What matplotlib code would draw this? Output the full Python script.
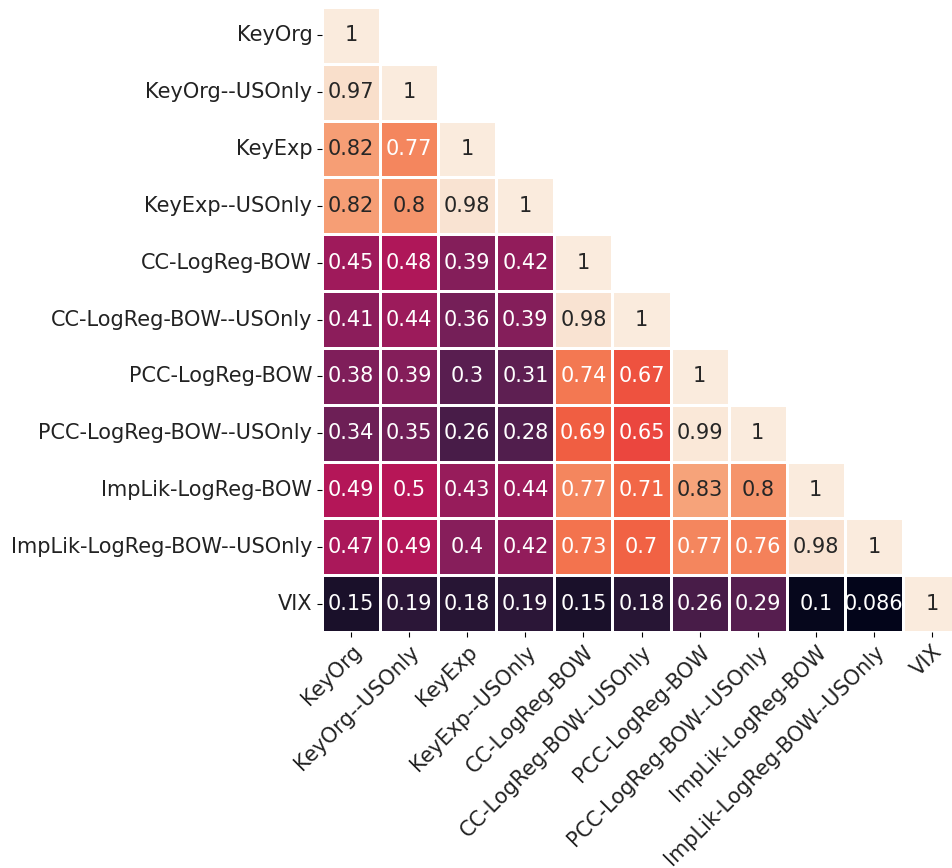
import numpy as np
import matplotlib
matplotlib.use("Agg")
import matplotlib.pyplot as plt
import seaborn as sns

# Measures compared in the correlation matrix
labels = ["KeyOrg", "KeyOrg--USOnly", "KeyExp", "KeyExp--USOnly",
          "CC-LogReg-BOW", "CC-LogReg-BOW--USOnly",
          "PCC-LogReg-BOW", "PCC-LogReg-BOW--USOnly",
          "ImpLik-LogReg-BOW", "ImpLik-LogReg-BOW--USOnly", "VIX"]

# Lower triangle of the correlation matrix, row by row
lower_rows = [
    [1],
    [0.97, 1],
    [0.82, 0.77, 1],
    [0.82, 0.8, 0.98, 1],
    [0.45, 0.48, 0.39, 0.42, 1],
    [0.41, 0.44, 0.36, 0.39, 0.98, 1],
    [0.38, 0.39, 0.3, 0.31, 0.74, 0.67, 1],
    [0.34, 0.35, 0.26, 0.28, 0.69, 0.65, 0.99, 1],
    [0.49, 0.5, 0.43, 0.44, 0.77, 0.71, 0.83, 0.8, 1],
    [0.47, 0.49, 0.4, 0.42, 0.73, 0.7, 0.77, 0.76, 0.98, 1],
    [0.15, 0.19, 0.18, 0.19, 0.15, 0.18, 0.26, 0.29, 0.1, 0.086, 1],
]

# Build the full symmetric matrix
n = len(labels)
corr = np.zeros((n, n))
for i, row in enumerate(lower_rows):
    for j, v in enumerate(row):
        corr[i, j] = v
        corr[j, i] = v

# Hide the upper triangle (keep the diagonal)
mask = np.triu(np.ones_like(corr, dtype=bool), k=1)

fig = plt.figure(figsize=(9.52, 8.68), dpi=100)
ax = fig.add_axes([322 / 952, 1 - 632 / 868, 639 / 952, 625 / 868])

sns.heatmap(corr, mask=mask, cmap="rocket", annot=True, fmt=".2g",
            annot_kws={"fontsize": 15}, linewidths=1, linecolor="white",
            cbar=False, xticklabels=labels, yticklabels=labels, ax=ax)

ax.tick_params(axis="both", labelsize=15, labelcolor="#222222")
plt.setp(ax.get_xticklabels(), rotation=45, ha="right", rotation_mode="anchor")
plt.setp(ax.get_yticklabels(), rotation=0)

fig.savefig("out.png", dpi=100)
